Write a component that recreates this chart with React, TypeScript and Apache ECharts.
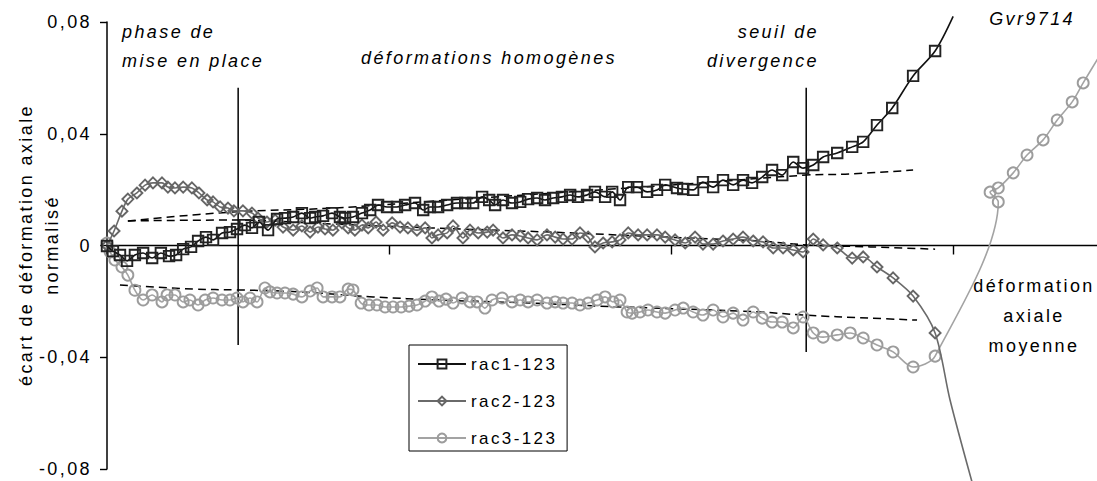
import { useEffect, useRef } from 'react';
import * as echarts from 'echarts';

const FONT = "'Liberation Sans', Arial, sans-serif";

// x: déformation axiale moyenne (unlabelled ticks every 1 unit); y: normalised axial strain deviation
const rac1: number[][] = [
  [0, -0.0002], [0.021, -0.002], [0.046, -0.0034], [0.071, -0.0055], [0.099, -0.0034], [0.128, -0.0027],
  [0.16, -0.0045], [0.191, -0.0027], [0.22, -0.0038], [0.245, -0.0034], [0.27, -0.0013], [0.298, -0.0005],
  [0.323, 0.0016], [0.351, 0.003], [0.376, 0.002], [0.408, 0.0045], [0.436, 0.0048], [0.461, 0.0059],
  [0.489, 0.0073], [0.514, 0.0063], [0.539, 0.0084], [0.571, 0.0055], [0.603, 0.0095], [0.631, 0.0098],
  [0.66, 0.0102], [0.691, 0.0116], [0.72, 0.0098], [0.738, 0.0102], [0.766, 0.0106], [0.798, 0.0116],
  [0.826, 0.0102], [0.844, 0.0098], [0.872, 0.0102], [0.904, 0.0116], [0.933, 0.0127], [0.961, 0.0145],
  [0.993, 0.0138], [1.028, 0.0138], [1.057, 0.0145], [1.092, 0.0152], [1.121, 0.0127], [1.145, 0.0138],
  [1.174, 0.0138], [1.206, 0.0145], [1.241, 0.0152], [1.27, 0.0152], [1.298, 0.0152], [1.33, 0.0174],
  [1.355, 0.0163], [1.376, 0.0145], [1.404, 0.0163], [1.436, 0.0152], [1.465, 0.0156], [1.493, 0.0166],
  [1.525, 0.017], [1.553, 0.0163], [1.582, 0.017], [1.613, 0.0174], [1.642, 0.0181], [1.67, 0.0174],
  [1.702, 0.0181], [1.73, 0.0192], [1.766, 0.0174], [1.791, 0.0192], [1.819, 0.0163], [1.848, 0.0209],
  [1.879, 0.0209], [1.915, 0.0192], [1.95, 0.0199], [1.979, 0.0217], [2.021, 0.0206], [2.043, 0.0202],
  [2.078, 0.0199], [2.113, 0.0227], [2.149, 0.0209], [2.184, 0.0234], [2.22, 0.0217], [2.255, 0.0234],
  [2.287, 0.0224], [2.323, 0.0245], [2.358, 0.027], [2.394, 0.0252], [2.433, 0.0299], [2.468, 0.0277],
  [2.504, 0.0288], [2.539, 0.0317], [2.589, 0.0331], [2.642, 0.0353], [2.681, 0.0371], [2.73, 0.0431],
  [2.784, 0.0492], [2.858, 0.0607], [2.936, 0.0696],
];
const rac1Tail: number[][] = [[3.0, 0.082]];

const rac2: number[][] = [
  [0, 0], [0.025, 0.0052], [0.053, 0.0123], [0.074, 0.0166], [0.106, 0.0188], [0.135, 0.0216],
  [0.163, 0.0224], [0.195, 0.0224], [0.216, 0.0209], [0.241, 0.0206], [0.27, 0.0209], [0.301, 0.0206],
  [0.326, 0.0188], [0.355, 0.0163], [0.376, 0.0156], [0.401, 0.0138], [0.429, 0.0134], [0.45, 0.0124],
  [0.482, 0.0124], [0.514, 0.0116], [0.535, 0.0098], [0.567, 0.0084], [0.596, 0.0091], [0.624, 0.0066],
  [0.66, 0.0055], [0.691, 0.007], [0.72, 0.0048], [0.748, 0.0066], [0.773, 0.0059], [0.801, 0.0055],
  [0.833, 0.0081], [0.855, 0.0063], [0.879, 0.0055], [0.904, 0.0073], [0.926, 0.0063], [0.954, 0.0084],
  [0.979, 0.0055], [1.011, 0.0081], [1.039, 0.0066], [1.067, 0.0063], [1.099, 0.0055], [1.128, 0.0063],
  [1.152, 0.0027], [1.174, 0.0038], [1.206, 0.0045], [1.227, 0.007], [1.262, 0.0027], [1.287, 0.0055],
  [1.316, 0.0045], [1.348, 0.0048], [1.369, 0.0055], [1.404, 0.0027], [1.436, 0.0038], [1.465, 0.0034],
  [1.493, 0.0027], [1.525, 0.002], [1.56, 0.0038], [1.589, 0.003], [1.617, 0.0023], [1.649, 0.0023],
  [1.677, 0.0045], [1.706, 0.003], [1.73, -0.0005], [1.759, 0.0009], [1.791, 0.0013], [1.819, 0.002],
  [1.848, 0.0045], [1.883, 0.0038], [1.915, 0.0038], [1.95, 0.0038], [1.979, 0.003], [2.014, 0.002],
  [2.05, 0.0009], [2.085, 0.003], [2.113, 0.0005], [2.149, 0.0005], [2.184, 0.0016], [2.22, 0.0023],
  [2.255, 0.003], [2.291, 0.0016], [2.326, 0.0013], [2.362, -0.0009], [2.397, -0.0009], [2.433, -0.0016],
  [2.468, -0.0023], [2.504, 0.0023], [2.539, 0.0002], [2.589, -0.0009], [2.642, -0.0045], [2.681, -0.0041],
  [2.73, -0.0077], [2.787, -0.0116], [2.858, -0.0181], [2.936, -0.0313],
];
const rac2Tail: number[][] = [[2.989, -0.0553], [3.067, -0.0847]];

const rac3: number[][] = [
  [0, 0.0009], [0.011, -0.0023], [0.028, -0.0052], [0.053, -0.0077], [0.074, -0.0106], [0.099, -0.016],
  [0.128, -0.0195], [0.16, -0.0177], [0.195, -0.0202], [0.213, -0.0177], [0.241, -0.0177], [0.27, -0.0202],
  [0.294, -0.0195], [0.323, -0.0213], [0.348, -0.0195], [0.376, -0.0188], [0.408, -0.0195], [0.436, -0.0195],
  [0.461, -0.0188], [0.482, -0.0202], [0.507, -0.0188], [0.532, -0.0202], [0.56, -0.0152], [0.578, -0.0166],
  [0.603, -0.017], [0.631, -0.017], [0.66, -0.0174], [0.691, -0.0184], [0.72, -0.0163], [0.745, -0.0152],
  [0.766, -0.0184], [0.798, -0.0184], [0.826, -0.0184], [0.855, -0.0156], [0.872, -0.0159], [0.901, -0.0206],
  [0.929, -0.0213], [0.957, -0.0213], [0.986, -0.022], [1.014, -0.022], [1.043, -0.022], [1.071, -0.0217],
  [1.099, -0.0213], [1.128, -0.0199], [1.152, -0.0184], [1.177, -0.0199], [1.202, -0.0192], [1.227, -0.0206],
  [1.259, -0.0188], [1.287, -0.0202], [1.312, -0.0202], [1.34, -0.0224], [1.365, -0.0195], [1.401, -0.0188],
  [1.436, -0.0202], [1.465, -0.0195], [1.493, -0.0202], [1.525, -0.0195], [1.56, -0.0206], [1.589, -0.0202],
  [1.617, -0.0206], [1.649, -0.0206], [1.677, -0.0213], [1.706, -0.0206], [1.738, -0.0195], [1.766, -0.0184],
  [1.794, -0.0202], [1.819, -0.0195], [1.844, -0.0238], [1.862, -0.0242], [1.89, -0.0238], [1.918, -0.0231],
  [1.95, -0.0238], [1.979, -0.0242], [2.014, -0.0231], [2.043, -0.0224], [2.078, -0.0238], [2.113, -0.0249],
  [2.149, -0.0231], [2.184, -0.0256], [2.22, -0.0242], [2.255, -0.0267], [2.291, -0.0238], [2.323, -0.026],
  [2.358, -0.0274], [2.394, -0.0274], [2.433, -0.0295], [2.468, -0.0256], [2.504, -0.0313], [2.539, -0.0328],
  [2.589, -0.032], [2.635, -0.0313], [2.681, -0.0331], [2.73, -0.0356], [2.787, -0.0381], [2.858, -0.0435],
  [2.936, -0.0396], [3.16, 0.0156], [3.131, 0.0191], [3.16, 0.0206], [3.213, 0.026], [3.262, 0.0324],
  [3.319, 0.0378], [3.369, 0.0449], [3.422, 0.0514], [3.461, 0.0582],
];
const rac3Tail: number[][] = [[3.521, 0.0682]];

// dashed trend curves
const trend1: number[][] = [
  [0.074, 0.0088], [0.447, 0.012], [0.801, 0.0134], [1.216, 0.0163], [1.748, 0.0199], [2.103, 0.0224],
  [2.479, 0.0252], [2.635, 0.0256], [2.858, 0.027],
];
const trend2: number[][] = [
  [0.074, 0.0088], [0.447, 0.0091], [0.801, 0.0077], [1.145, 0.0063], [1.571, 0.0048], [1.986, 0.003],
  [2.316, 0.0016], [2.482, 0.0002], [2.706, -0.0005], [2.936, -0.0013],
];
const trend3: number[][] = [
  [0.046, -0.0141], [0.305, -0.0156], [0.461, -0.0159], [0.684, -0.0166], [0.943, -0.0184], [1.181, -0.0195],
  [1.5, -0.0206], [1.748, -0.0217], [2.032, -0.0227], [2.316, -0.0238], [2.468, -0.0249], [2.706, -0.026],
  [2.872, -0.0267],
];

// phase boundaries
const boundary1: number[][] = [[0.465, 0.0565], [0.465, -0.0356]];
const boundary2: number[][] = [[2.479, 0.0565], [2.479, -0.0381]];

const seriesNames = ['rac1-123', 'rac2-123', 'rac3-123'];
const xTickValues = [1, 2, 3];

function withTail(main: number[][], tail: number[][]) {
  return [...main, ...tail.map((v) => ({ value: v, symbol: 'none' }))];
}

export default function App() {
  const ref = useRef<HTMLDivElement>(null);

  useEffect(() => {
    if (!ref.current) return;
    const chart = echarts.init(ref.current, null, { renderer: 'svg' });

    const dashed = (data: number[][]) => ({
      type: 'line',
      data,
      symbol: 'none',
      smooth: 0.4,
      clip: false,
      silent: true,
      lineStyle: { color: '#000', width: 1.5, type: [8, 5] },
      z: 3,
    });
    const boundary = (data: number[][]) => ({
      type: 'line',
      data,
      symbol: 'none',
      clip: false,
      silent: true,
      lineStyle: { color: '#000', width: 1.5 },
      z: 2,
    });
    const textStyle = (text: string, extra: any = {}) => ({
      text,
      fontSize: 18,
      fontFamily: FONT,
      fill: '#000',
      verticalAlign: 'middle',
      ...extra,
    });

    chart.setOption({
      animation: false,
      backgroundColor: '#fff',
      grid: { left: 107, top: 22, width: 990, height: 447, containLabel: false, outerBoundsMode: 'none' },
      xAxis: {
        type: 'value',
        min: 0,
        max: 3.51,
        interval: 1,
        axisLine: { onZero: true, lineStyle: { color: '#000', width: 1.4 } },
        axisTick: { show: true, length: 9, customValues: xTickValues, lineStyle: { color: '#000', width: 1.4 } },
        axisLabel: { show: false },
        splitLine: { show: false },
      },
      yAxis: {
        type: 'value',
        min: -0.08,
        max: 0.08,
        interval: 0.04,
        axisLine: { show: true, onZero: false, lineStyle: { color: '#000', width: 1.5 } },
        axisTick: { show: true, length: 7, lineStyle: { color: '#000', width: 1.4 } },
        axisLabel: {
          margin: 15,
          fontSize: 18,
          fontFamily: FONT,
          color: '#000',
          formatter: (v: number) => (Math.abs(v) < 1e-9 ? '0' : v.toFixed(2).replace('.', ',')),
        },
        splitLine: { show: false },
      },
      legend: {
        data: seriesNames,
        orient: 'vertical',
        left: 409,
        top: 345,
        itemWidth: 48,
        itemHeight: 11,
        itemGap: 17,
        padding: [9, 29, 3, 8],
        borderColor: '#000',
        borderWidth: 1,
        backgroundColor: '#fff',
        selectedMode: false,
        textStyle: { fontSize: 17, fontFamily: FONT, color: '#000', lineHeight: 20 },
      },
      series: [
        boundary(boundary1),
        boundary(boundary2),
        dashed(trend1),
        dashed(trend2),
        dashed(trend3),
        {
          name: seriesNames[2],
          type: 'line',
          data: withTail(rac3, rac3Tail),
          symbol: 'circle',
          symbolSize: 11,
          smooth: 0.3,
          clip: false,
          emphasis: { disabled: true },
          lineStyle: { color: '#a3a3a3', width: 1.6 },
          itemStyle: { color: 'rgba(255,255,255,0)', borderColor: '#9c9c9c', borderWidth: 1.9 },
          z: 4,
        },
        {
          name: seriesNames[1],
          type: 'line',
          data: withTail(rac2, rac2Tail),
          symbol: 'diamond',
          symbolSize: 11,
          smooth: 0.3,
          clip: false,
          emphasis: { disabled: true },
          lineStyle: { color: '#6a6a6a', width: 1.6 },
          itemStyle: { color: 'rgba(255,255,255,0)', borderColor: '#666', borderWidth: 1.9 },
          z: 5,
        },
        {
          name: seriesNames[0],
          type: 'line',
          data: withTail(rac1, rac1Tail),
          symbol: 'rect',
          symbolSize: 10.5,
          smooth: 0.3,
          clip: false,
          emphasis: { disabled: true },
          lineStyle: { color: '#111', width: 1.6 },
          itemStyle: { color: 'rgba(255,255,255,0)', borderColor: '#222', borderWidth: 1.9 },
          z: 6,
        },
      ],
      graphic: [
        { type: 'text', x: 122, y: 32, style: textStyle('phase de', { fontStyle: 'italic', align: 'left' }) },
        { type: 'text', x: 122, y: 61, style: textStyle('mise en place', { fontStyle: 'italic', align: 'left' }) },
        { type: 'text', x: 489, y: 58, style: textStyle('déformations homogènes', { fontStyle: 'italic', align: 'center' }) },
        { type: 'text', x: 819, y: 32, style: textStyle('seuil de', { fontStyle: 'italic', align: 'right' }) },
        { type: 'text', x: 819, y: 61, style: textStyle('divergence', { fontStyle: 'italic', align: 'right' }) },
        { type: 'text', x: 1075, y: 19, style: textStyle('Gvr9714', { fontStyle: 'italic', align: 'right' }) },
        {
          type: 'text',
          x: 1034,
          y: 316,
          style: textStyle('déformation\naxiale\nmoyenne', { align: 'center', lineHeight: 30 }),
        },
        {
          type: 'text',
          x: 39,
          y: 245,
          rotation: Math.PI / 2,
          style: textStyle('écart de déformation axiale\nnormalisé', { align: 'center', lineHeight: 26 }),
        },
      ],
    } as any);

    return () => chart.dispose();
  }, []);

  return (
    <>
      <style>{`body{margin:0} .gvr-chart text{letter-spacing:2.4px}`}</style>
      <div ref={ref} className="gvr-chart" style={{ width: 1097, height: 481 }} />
    </>
  );
}
